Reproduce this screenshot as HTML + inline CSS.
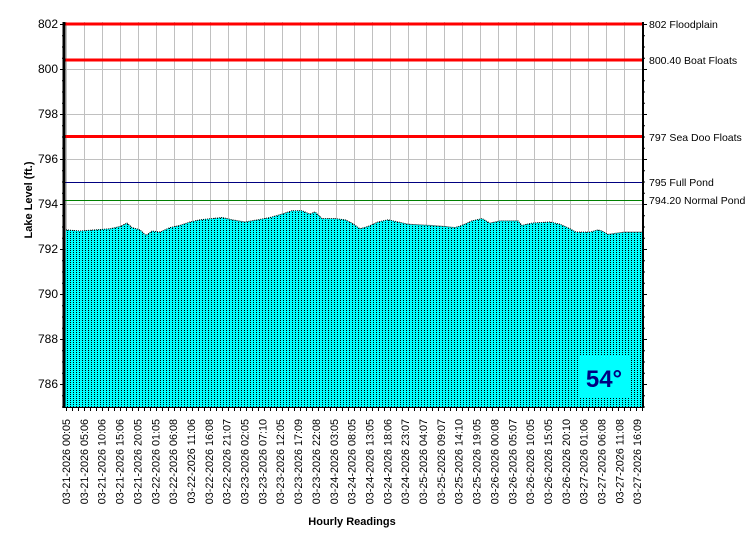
<!DOCTYPE html>
<html><head><meta charset="utf-8"><style>
body{margin:0;background:#fff;}
svg{display:block;font-family:"Liberation Sans",Arial,sans-serif;}
</style></head><body>
<svg width="750" height="550" viewBox="0 0 750 550" xmlns="http://www.w3.org/2000/svg">
<defs>
<pattern id="dots" x="0" y="0" width="3" height="2" patternUnits="userSpaceOnUse">
<rect width="3" height="2" fill="#00ffff"/>
<rect x="1" y="0" width="1" height="1" fill="#000"/>
</pattern>
</defs>
<rect width="750" height="550" fill="#fff"/>
<g id="grid" stroke="#c0c0c0" stroke-width="1"></g>
<path id="area" fill="url(#dots)" stroke="none"/>
<path id="areaTop" fill="none" stroke="#000" stroke-width="1" stroke-dasharray="1 1"/>
<g stroke-width="3" stroke="#ff0000">
<line x1="64" y1="24" x2="642" y2="24"/>
<line x1="64" y1="60" x2="642" y2="60"/>
<line x1="64" y1="136.5" x2="642" y2="136.5"/>
</g>
<line x1="64" y1="182.5" x2="642" y2="182.5" stroke="#000080" stroke-width="1"/>
<line x1="64" y1="200.5" x2="642" y2="200.5" stroke="#008000" stroke-width="1"/>
<rect x="578" y="355" width="52" height="42" fill="#00ffff"/>
<text x="604" y="387" font-size="24" font-weight="bold" fill="#000080" text-anchor="middle" font-family="Liberation Sans, sans-serif">54°</text>
<line x1="64" y1="22" x2="64" y2="408" stroke="#000" stroke-width="3"/>
<line x1="643" y1="22" x2="643" y2="408" stroke="#000" stroke-width="2"/>
<line x1="63" y1="407.5" x2="643" y2="407.5" stroke="#000" stroke-width="1"/>
<g id="ticks" stroke="#000" stroke-width="1"></g>
<g font-size="12" fill="#000" text-anchor="end">
<text x="58" y="28">802</text><text x="58" y="73">800</text><text x="58" y="118">798</text><text x="58" y="163">796</text><text x="58" y="208">794</text><text x="58" y="253">792</text><text x="58" y="298">790</text><text x="58" y="343">788</text><text x="58" y="388">786</text>
</g>
<g font-size="10.5" fill="#000">
<text x="649" y="28">802 Floodplain</text>
<text x="649" y="64">800.40 Boat Floats</text>
<text x="649" y="141">797 Sea Doo Floats</text>
<text x="649" y="186">795 Full Pond</text>
<text x="649" y="204">794.20 Normal Pond</text>
</g>
<text transform="translate(32,200) rotate(-90)" font-size="11" font-weight="bold" text-anchor="middle">Lake Level (ft.)</text>
<text x="352" y="525" font-size="11" font-weight="bold" text-anchor="middle">Hourly Readings</text>
<g id="xl" font-size="10.8" fill="#000" text-anchor="end"></g>
</svg>
<script>
var ns="http://www.w3.org/2000/svg";
function Y(v){return 24+(802-v)*22.5;}
var g=document.getElementById('grid');
for(var x=66;x<=640;x+=18){var l=document.createElementNS(ns,'line');l.setAttribute('x1',x+.5);l.setAttribute('x2',x+.5);l.setAttribute('y1',22);l.setAttribute('y2',407);g.appendChild(l);}
for(var v=800;v>=786;v-=2){var l=document.createElementNS(ns,'line');l.setAttribute('x1',64);l.setAttribute('x2',642);l.setAttribute('y1',Y(v)+.5);l.setAttribute('y2',Y(v)+.5);g.appendChild(l);}
var t=document.getElementById('ticks');
for(var v=802;v>=785;v-=0.5){var big=(v%2==0);[[64-(big?4:2),64],[643,643+(big?4:2)]].forEach(function(a){var l=document.createElementNS(ns,'line');l.setAttribute('x1',a[0]);l.setAttribute('x2',a[1]);l.setAttribute('y1',Y(v)+.5);l.setAttribute('y2',Y(v)+.5);t.appendChild(l);});}
for(var x=66;x<=642;x+=6){var l=document.createElementNS(ns,'line');l.setAttribute('x1',x+.5);l.setAttribute('x2',x+.5);l.setAttribute('y1',408);l.setAttribute('y2',411);t.appendChild(l);}
var pts=[[66,792.85],[80,792.8],[95,792.85],[110,792.9],[120,793.0],[127,793.15],[132,792.95],[140,792.85],[146,792.6],[152,792.8],[160,792.75],[170,792.95],[180,793.05],[190,793.2],[200,793.3],[212,793.35],[222,793.4],[232,793.3],[245,793.2],[258,793.3],[270,793.4],[282,793.55],[292,793.7],[302,793.7],[310,793.55],[315,793.65],[322,793.35],[335,793.35],[345,793.3],[352,793.15],[360,792.9],[368,793.0],[378,793.2],[388,793.3],[398,793.2],[408,793.1],[430,793.05],[445,793.0],[455,792.95],[462,793.05],[472,793.25],[482,793.35],[490,793.15],[500,793.25],[518,793.25],[522,793.05],[532,793.15],[550,793.2],[560,793.1],[570,792.9],[576,792.75],[590,792.75],[598,792.85],[602,792.8],[608,792.65],[616,792.7],[625,792.75],[642,792.75]];
var d='M64,407',d2='';
pts.forEach(function(p,i){d+=' L'+p[0]+','+Y(p[1]).toFixed(1);d2+=(i?' L':'M')+p[0]+','+Y(p[1]).toFixed(1);});
d+=' L642,407 Z';
document.getElementById('area').setAttribute('d',d);
document.getElementById('areaTop').setAttribute('d',d2);
var labs=["03-21-2026 00:05","03-21-2026 05:06","03-21-2026 10:06","03-21-2026 15:06","03-21-2026 20:05","03-22-2026 01:05","03-22-2026 06:08","03-22-2026 11:06","03-22-2026 16:08","03-22-2026 21:07","03-23-2026 02:05","03-23-2026 07:10","03-23-2026 12:05","03-23-2026 17:09","03-23-2026 22:08","03-24-2026 03:05","03-24-2026 08:05","03-24-2026 13:05","03-24-2026 18:06","03-24-2026 23:07","03-25-2026 04:07","03-25-2026 09:07","03-25-2026 14:10","03-25-2026 19:05","03-26-2026 00:08","03-26-2026 05:07","03-26-2026 10:05","03-26-2026 15:05","03-26-2026 20:10","03-27-2026 01:06","03-27-2026 06:08","03-27-2026 11:08","03-27-2026 16:09"];
var xl=document.getElementById('xl');
labs.forEach(function(s,i){var x=70+i*17.85;var e=document.createElementNS(ns,'text');e.setAttribute('transform','translate('+x.toFixed(1)+',419) rotate(-90)');e.textContent=s;xl.appendChild(e);});
</script>
</body></html>
